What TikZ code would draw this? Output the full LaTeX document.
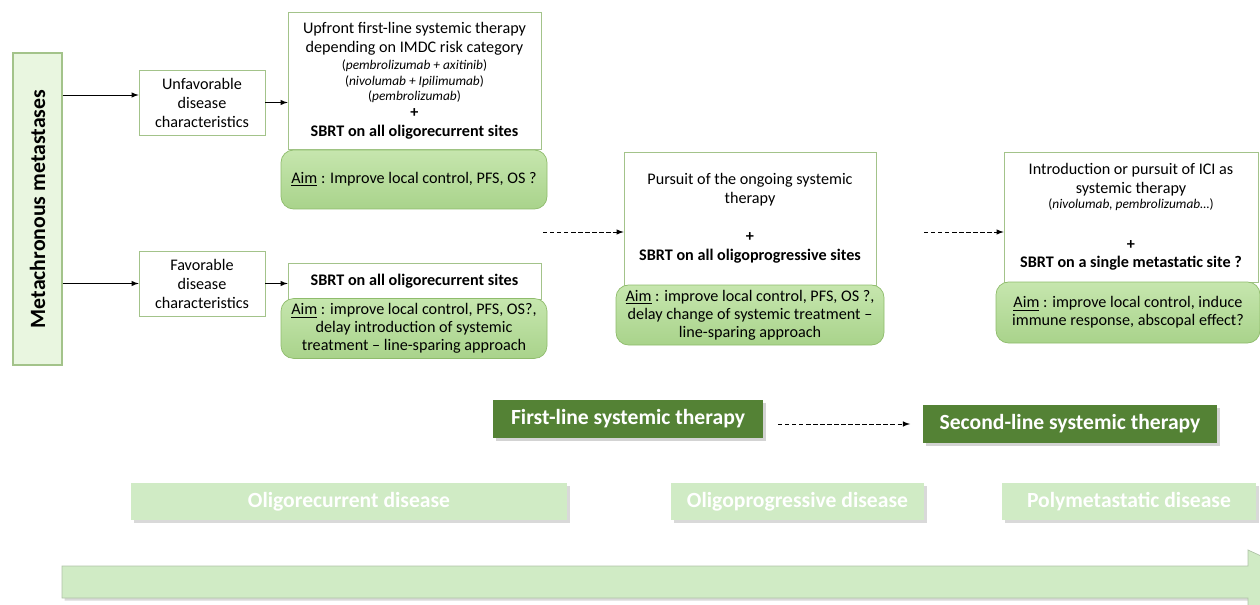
\documentclass[tikz,border=0pt]{standalone}
\usepackage{fontspec}
\setmainfont{Carlito}
\usetikzlibrary{arrows,shadows}
\definecolor{edgegreen}{HTML}{A3C38A}
\definecolor{metafill}{HTML}{E9F6E0}
\definecolor{aimtop}{HTML}{C6E6AE}
\definecolor{aimbottom}{HTML}{A9D38B}
\definecolor{aimedge}{HTML}{8FBC6C}
\definecolor{darkgreen}{HTML}{548235}
\definecolor{phasefill}{HTML}{D0EBC5}
\begin{document}
\begin{tikzpicture}[
		plainbox/.style={rectangle,draw=edgegreen,fill=white,align=center,inner sep=1mm,font=\fontsize{9.2}{10.8}\selectfont},
		aimbox/.style={rectangle,rounded corners=2.5mm,draw=aimedge,top color=aimtop,bottom color=aimbottom,align=center,inner sep=1mm,font=\fontsize{9.2}{10.2}\selectfont},
		metabox/.style={rectangle,draw=edgegreen,fill=metafill,thick,font=\bfseries\fontsize{12.4}{14}\selectfont},
		linebox/.style={rectangle,fill=darkgreen,text=white,drop shadow={shadow xshift=0.05cm,shadow yshift=-0.05cm,opacity=0.35},font=\bfseries\fontsize{12.3}{14}\selectfont,minimum height=0.76cm},
		phasebox/.style={rectangle,fill=phasefill,text=white,drop shadow={shadow xshift=0.05cm,shadow yshift=-0.05cm,opacity=0.3},font=\bfseries\fontsize{12.3}{14}\selectfont,minimum height=0.74cm},
		shortdash/.style={dash pattern=on 2.5pt off 1.5pt}]
	\useasboundingbox (0,0) rectangle (25.2,-12.1);
	% time line arrow
	\fill [phasefill,draw=phasefill!80!black!90,drop shadow={shadow xshift=0.05cm,shadow yshift=-0.05cm,opacity=0.3}]
		(1.24,-11.32) -- (24.96,-11.32) -- (24.96,-11.0) -- (26.36,-11.64) -- (24.96,-12.28) -- (24.96,-11.96) -- (1.24,-11.96) -- cycle;
	\node (meta)    at ( 0.75, -4.18) [metabox,rotate=90,minimum width=6.24cm,minimum height=0.98cm] {Metachronous metastases};
	\node (unfav)   at ( 4.04, -2.05) [plainbox,minimum width=2.52cm,minimum height=1.3cm] {Unfavorable\\disease\\characteristics};
	\node (fav)     at ( 4.04, -5.67) [plainbox,minimum width=2.52cm,minimum height=1.3cm] {Favorable\\disease\\characteristics};
	\node (upfront) at ( 8.29, -1.62) [plainbox,minimum width=5.06cm,minimum height=2.74cm]
		{Upfront first-line systemic therapy\\depending on IMDC risk category\\[-1pt]
		{\fontsize{7.6}{9}\selectfont(\textit{pembrolizumab + axitinib})}\\[-2pt]
		{\fontsize{7.6}{9}\selectfont(\textit{nivolumab + Ipilimumab})}\\[-2pt]
		{\fontsize{7.6}{9}\selectfont(\textit{pembrolizumab})}\\[-1pt]
		\textbf{+}\\ \textbf{SBRT on all oligorecurrent sites}};
	\node (sbrt)    at ( 8.29, -5.62) [plainbox,minimum width=5.06cm,minimum height=0.72cm] {\textbf{SBRT on all oligorecurrent sites}};
	\node (pursuit) at (15.00, -4.37) [plainbox,minimum width=5.04cm,minimum height=2.66cm]
		{Pursuit of the ongoing systemic\\therapy\\[11pt] \textbf{+}\\ \textbf{SBRT on all oligoprogressive sites}};
	\node (intro)   at (22.62, -4.34) [plainbox,minimum width=5.08cm,minimum height=2.6cm]
		{Introduction or pursuit of ICI as\\systemic therapy\\[-2pt]
		{\fontsize{7.6}{9}\selectfont(\textit{nivolumab, pembrolizumab\dots})}\\[12pt]
		\textbf{+}\\ \textbf{SBRT on a single metastatic site ?}};
	\node (aimA)    at ( 8.28, -3.59) [aimbox,minimum width=5.32cm,minimum height=1.18cm] {\underline{Aim} : Improve local control, PFS, OS ?};
	\node (aimB)    at ( 8.28, -6.57) [aimbox,minimum width=5.32cm,minimum height=1.18cm]
		{\underline{Aim} : improve local control, PFS, OS?,\\delay introduction of systemic\\treatment -- line-sparing approach};
	\node (aimC)    at (15.00, -6.30) [aimbox,minimum width=5.36cm,minimum height=1.2cm]
		{\underline{Aim} : improve local control, PFS, OS ?,\\delay change of systemic treatment --\\line-sparing approach};
	\node (aimD)    at (22.56, -6.25) [aimbox,minimum width=5.28cm,minimum height=1.22cm]
		{\underline{Aim} : improve local control, induce\\immune response, abscopal effect?};
	\node (first)   at (12.56, -8.38) [linebox,minimum width=5.4cm] {First-line systemic therapy};
	\node (second)  at (21.40, -8.48) [linebox,minimum width=5.88cm] {Second-line systemic therapy};
	\node (olrec)   at ( 6.98,-10.03) [phasebox,minimum width=8.72cm] {Oligorecurrent disease};
	\node (olprog)  at (15.95,-10.03) [phasebox,minimum width=5.06cm] {Oligoprogressive disease};
	\node (poly)    at (22.58,-10.03) [phasebox,minimum width=5.08cm] {Polymetastatic disease};
	\coordinate (d1) at (10.86,-4.64);
	\coordinate (d2) at (18.48,-4.64);
	\coordinate (d3) at (15.56,-8.48);
	\coordinate (d4) at (18.20,-8.48);
	\draw [-latex] (meta.south |- 0,-1.90) -- (unfav.west |- 0,-1.90);
	\draw [-latex] (meta.south |- fav.west) -- (fav.west);
	\draw [-latex] (unfav.east) -- (upfront.west |- unfav.east);
	\draw [-latex] (fav.east) -- (sbrt.west |- fav.east);
	\draw [-latex,shortdash] (d1) -- (pursuit.west |- d1);
	\draw [-latex,shortdash] (d2) -- (intro.west |- d2);
	\draw [-latex,shortdash] (d3) -- (d4);
\end{tikzpicture}
\end{document}
